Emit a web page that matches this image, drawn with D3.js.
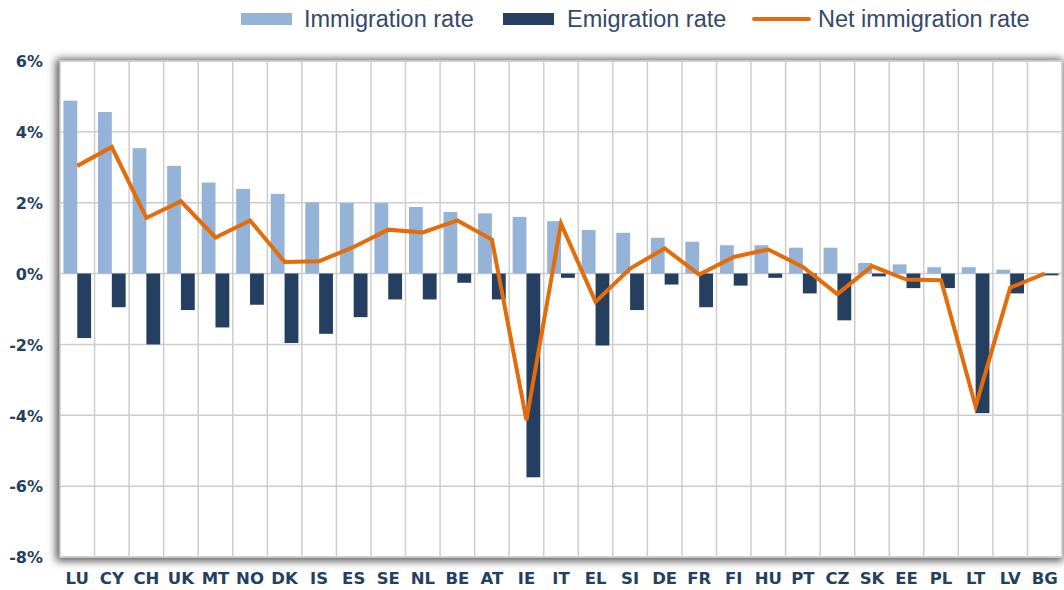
<!DOCTYPE html>
<html>
<head>
<meta charset="utf-8">
<script src="https://cdn.jsdelivr.net/npm/d3@7"></script>
<style>
  html, body { margin: 0; padding: 0; background: #fff; }
  svg { display: block; }
</style>
</head>
<body>
<svg id="chart" width="1064" height="590"></svg>
<script>
const categories = ["LU","CY","CH","UK","MT","NO","DK","IS","ES","SE","NL","BE","AT","IE","IT","EL","SI","DE","FR","FI","HU","PT","CZ","SK","EE","PL","LT","LV","BG"];
const immigration = [4.88,4.56,3.54,3.04,2.57,2.39,2.25,2.01,1.99,1.99,1.88,1.74,1.70,1.60,1.48,1.23,1.15,1.01,0.90,0.80,0.80,0.73,0.73,0.30,0.26,0.18,0.18,0.11,0.01];
const emigration = [-1.82,-0.95,-2.00,-1.03,-1.52,-0.88,-1.96,-1.70,-1.23,-0.73,-0.73,-0.26,-0.73,-5.75,-0.12,-2.03,-1.03,-0.31,-0.95,-0.34,-0.12,-0.56,-1.32,-0.08,-0.41,-0.41,-3.94,-0.56,-0.05];
const netImmigration = [3.04,3.57,1.57,2.04,1.02,1.50,0.33,0.35,0.75,1.24,1.16,1.50,0.96,-4.14,1.41,-0.80,0.14,0.71,-0.03,0.47,0.68,0.19,-0.58,0.21,-0.17,-0.19,-3.75,-0.40,0.00];
const yTicks = [-8,-6,-4,-2,0,2,4,6];
const seriesNames = ["Immigration rate","Emigration rate","Net immigration rate"];

const colImm = "#95b3d7", colEmi = "#243f60", colNet = "#e46c0a", colText = "#243f60";

const svg = d3.select("#chart");
const L = 60, R = 1062, T = 61, B = 557;

const x = d3.scaleBand().domain(categories).range([L, R]).paddingInner(0).paddingOuter(0);
const x1 = d3.scaleBand().domain(["imm","emi"]).range([0, x.bandwidth()]).paddingInner(0).paddingOuter(0.25);
const y = d3.scaleLinear().domain([-8, 6]).range([B, T]);

// shadow
const defs = svg.append("defs");
const f = defs.append("filter").attr("id","sh").attr("x","-10%").attr("y","-10%").attr("width","120%").attr("height","120%");
f.append("feGaussianBlur").attr("stdDeviation", 4);
svg.append("rect").attr("x", L-4).attr("y", T-2).attr("width", R-L+5).attr("height", B-T+6)
  .attr("fill", "#555").attr("filter","url(#sh)");
svg.append("rect").attr("x", L).attr("y", T).attr("width", R-L).attr("height", B-T).attr("fill","#fff");

// grid
const g = svg.append("g");
g.selectAll("line.h").data(yTicks).join("line")
  .attr("x1", L).attr("x2", R).attr("y1", d => y(d)).attr("y2", d => y(d))
  .attr("stroke", "#cdcdcd").attr("stroke-width", 1.5);
g.selectAll("line.v").data(categories.slice(1)).join("line")
  .attr("x1", d => x(d)).attr("x2", d => x(d)).attr("y1", T).attr("y2", B)
  .attr("stroke", "#cdcdcd").attr("stroke-width", 1.5);
svg.append("rect").attr("x", L).attr("y", T).attr("width", R-L).attr("height", B-T)
  .attr("fill","none").attr("stroke","#cdcdcd").attr("stroke-width",1.5);

// bars
svg.append("g").selectAll("rect").data(categories).join("rect")
  .attr("x", (d) => x(d) + x1("imm"))
  .attr("width", x1.bandwidth())
  .attr("y", (d,i) => y(Math.max(0, immigration[i])))
  .attr("height", (d,i) => Math.abs(y(immigration[i]) - y(0)))
  .attr("fill", colImm);
svg.append("g").selectAll("rect").data(categories).join("rect")
  .attr("x", (d) => x(d) + x1("emi"))
  .attr("width", x1.bandwidth())
  .attr("y", (d,i) => y(Math.max(0, emigration[i])))
  .attr("height", (d,i) => Math.abs(y(emigration[i]) - y(0)))
  .attr("fill", colEmi);

// net line
const line = d3.line().x((d,i) => x(categories[i]) + x.bandwidth()/2).y(d => y(d));
svg.append("path").datum(netImmigration).attr("d", line)
  .attr("fill","none").attr("stroke", colNet).attr("stroke-width", 4)
  .attr("stroke-linejoin","miter").attr("stroke-miterlimit", 4);

// y axis
const yAxis = d3.axisLeft(y).tickValues(yTicks).tickSize(0).tickPadding(0).tickFormat(d => d + "%");
const ya = svg.append("g").attr("transform", `translate(43,0)`).call(yAxis);
ya.select(".domain").remove();
ya.selectAll("text").attr("font-family","DejaVu Sans, sans-serif").attr("font-weight","bold")
  .attr("font-size", 16).attr("fill", colText).attr("dy", "0.36em");

// x axis
const xAxis = d3.axisBottom(x).tickSize(0).tickPadding(0);
const xa = svg.append("g").attr("transform", `translate(0,${B})`).call(xAxis);
xa.select(".domain").remove();
xa.selectAll("text").attr("font-family","DejaVu Sans, sans-serif").attr("font-weight","bold")
  .attr("font-size", 16.5).attr("fill", colText).attr("y", 27).attr("dy", 0);

// legend
const lg = svg.append("g").attr("font-family","Liberation Sans, Arial, sans-serif").attr("font-size", 23.5).attr("fill","#34496a");
lg.append("rect").attr("x",241).attr("y",13).attr("width",51).attr("height",12).attr("fill",colImm);
lg.append("text").attr("x",304).attr("y",26.5).text(seriesNames[0]);
lg.append("rect").attr("x",503).attr("y",13).attr("width",51).attr("height",12).attr("fill",colEmi);
lg.append("text").attr("x",567).attr("y",26.5).text(seriesNames[1]);
lg.append("line").attr("x1",754).attr("x2",809).attr("y1",19).attr("y2",19).attr("stroke",colNet).attr("stroke-width",4).attr("stroke-linecap","round");
lg.append("text").attr("x",818).attr("y",26.5).text(seriesNames[2]);
</script>
</body>
</html>
